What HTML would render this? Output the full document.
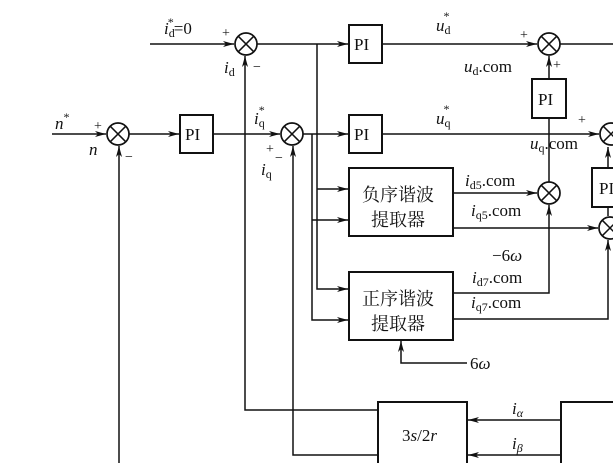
<!DOCTYPE html>
<html><head><meta charset="utf-8"><style>
html,body{margin:0;padding:0;background:#fff;}
svg{display:block;}
text{font-family:"Liberation Serif","Noto Serif CJK SC",serif;fill:#111;}
</style></head><body>
<svg width="613" height="463" viewBox="0 0 613 463" xmlns="http://www.w3.org/2000/svg">
<defs>
<marker id="a" markerWidth="11" markerHeight="6" refX="11" refY="3" orient="auto" markerUnits="userSpaceOnUse">
<path d="M0,0 L11,3 L0,6 L3,3 z" fill="#111"/></marker>
<g id="sum"><circle r="11" fill="#fff" stroke="#111" stroke-width="1.7"/><path d="M-7.8,-7.8 L7.8,7.8 M-7.8,7.8 L7.8,-7.8" stroke="#111" stroke-width="1.5"/></g>
</defs>
<g stroke="#111" stroke-width="1.5" fill="none">
<line x1="150" y1="44" x2="234" y2="44" marker-end="url(#a)"/>
<line x1="257" y1="44" x2="348" y2="44" marker-end="url(#a)"/>
<line x1="383" y1="44" x2="537" y2="44" marker-end="url(#a)"/>
<line x1="560" y1="44" x2="613" y2="44"/>
<line x1="52" y1="134" x2="106" y2="134" marker-end="url(#a)"/>
<line x1="129" y1="134" x2="179" y2="134" marker-end="url(#a)"/>
<line x1="214" y1="134" x2="280" y2="134" marker-end="url(#a)"/>
<line x1="303" y1="134" x2="348" y2="134" marker-end="url(#a)"/>
<line x1="383" y1="134" x2="599" y2="134" marker-end="url(#a)"/>
<polyline points="317,44 317,289 348,289" marker-end="url(#a)"/>
<line x1="317" y1="189" x2="348" y2="189" marker-end="url(#a)"/>
<polyline points="312,134 312,320 348,320" marker-end="url(#a)"/>
<line x1="312" y1="220" x2="348" y2="220" marker-end="url(#a)"/>
<polyline points="378,410 245,410 245,56" marker-end="url(#a)"/>
<polyline points="378,455 293,455 293,146" marker-end="url(#a)"/>
<line x1="119" y1="463" x2="119" y2="146" marker-end="url(#a)"/>
<line x1="549" y1="79" x2="549" y2="56" marker-end="url(#a)"/>
<line x1="549" y1="182" x2="549" y2="118"/>
<line x1="453" y1="193" x2="537" y2="193" marker-end="url(#a)"/>
<line x1="453" y1="228" x2="598" y2="228" marker-end="url(#a)"/>
<polyline points="453,293 549,293 549,205" marker-end="url(#a)"/>
<polyline points="453,319 608,319 608,240" marker-end="url(#a)"/>
<line x1="608" y1="216" x2="608" y2="207"/>
<line x1="608" y1="168" x2="608" y2="147" marker-end="url(#a)"/>
<polyline points="467,363 401,363 401,341" marker-end="url(#a)"/>
<line x1="561" y1="420" x2="468" y2="420" marker-end="url(#a)"/>
<line x1="561" y1="455" x2="468" y2="455" marker-end="url(#a)"/>
</g>
<g stroke="#111" stroke-width="2" fill="#fff">
<rect x="349" y="25" width="33" height="38"/>
<rect x="180" y="115" width="33" height="38"/>
<rect x="349" y="115" width="33" height="38"/>
<rect x="532" y="79" width="34" height="39"/>
<rect x="592" y="168" width="30" height="39"/>
<rect x="349" y="168" width="104" height="68"/>
<rect x="349" y="272" width="104" height="68"/>
<rect x="378" y="402" width="89" height="70"/>
<rect x="561" y="402" width="60" height="70"/>
</g>
<use href="#sum" x="246" y="44"/>
<use href="#sum" x="549" y="44"/>
<use href="#sum" x="118" y="134"/>
<use href="#sum" x="292" y="134"/>
<use href="#sum" x="611" y="134"/>
<use href="#sum" x="549" y="193"/>
<use href="#sum" x="610" y="228"/>
<g font-size="17">
<text x="354" y="50">PI</text>
<text x="185" y="140">PI</text>
<text x="354" y="140">PI</text>
<text x="538" y="105">PI</text>
<text x="599" y="194">PI</text>
<text x="362" y="201" font-size="18">负序谐波</text>
<text x="371" y="226" font-size="18">提取器</text>
<text x="362" y="305" font-size="18">正序谐波</text>
<text x="371" y="330" font-size="18">提取器</text>
<text x="402" y="441">3<tspan font-style="italic">s</tspan>/2<tspan font-style="italic">r</tspan></text>
<text x="164" y="34"><tspan font-style="italic">i</tspan><tspan font-size="12" dy="3">d</tspan><tspan font-size="12" dx="-7" dy="-11">*</tspan><tspan dy="8">=0</tspan></text>
<text x="224" y="73"><tspan font-style="italic">i</tspan><tspan font-size="12" dy="3">d</tspan></text>
<text x="55" y="129" font-style="italic">n<tspan font-size="12" dy="-8" font-style="normal">*</tspan></text>
<text x="89" y="155" font-style="italic">n</text>
<text x="254" y="124"><tspan font-style="italic">i</tspan><tspan font-size="12" dy="3">q</tspan><tspan font-size="12" dx="-6" dy="-13">*</tspan></text>
<text x="261" y="175"><tspan font-style="italic">i</tspan><tspan font-size="12" dy="3">q</tspan></text>
<text x="436" y="31"><tspan font-style="italic">u</tspan><tspan font-size="12" dy="3">d</tspan><tspan font-size="12" dx="-7" dy="-14">*</tspan></text>
<text x="436" y="124"><tspan font-style="italic">u</tspan><tspan font-size="12" dy="3">q</tspan><tspan font-size="12" dx="-7" dy="-14">*</tspan></text>
<text x="464" y="72"><tspan font-style="italic">u</tspan><tspan font-size="12" dy="3">d</tspan><tspan dy="-3">.com</tspan></text>
<text x="530" y="149"><tspan font-style="italic">u</tspan><tspan font-size="12" dy="3">q</tspan><tspan dy="-3">.com</tspan></text>
<text x="465" y="186"><tspan font-style="italic">i</tspan><tspan font-size="12" dy="3">d5</tspan><tspan dy="-3">.com</tspan></text>
<text x="471" y="216"><tspan font-style="italic">i</tspan><tspan font-size="12" dy="3">q5</tspan><tspan dy="-3">.com</tspan></text>
<text x="492" y="261">−6<tspan font-style="italic">ω</tspan></text>
<text x="472" y="283"><tspan font-style="italic">i</tspan><tspan font-size="12" dy="3">d7</tspan><tspan dy="-3">.com</tspan></text>
<text x="471" y="308"><tspan font-style="italic">i</tspan><tspan font-size="12" dy="3">q7</tspan><tspan dy="-3">.com</tspan></text>
<text x="470" y="369">6<tspan font-style="italic">ω</tspan></text>
<text x="512" y="414"><tspan font-style="italic">i</tspan><tspan font-size="12" dy="3" font-style="italic">α</tspan></text>
<text x="512" y="449"><tspan font-style="italic">i</tspan><tspan font-size="12" dy="3" font-style="italic">β</tspan></text>
</g>
<g font-size="14">
<text x="222" y="37">+</text><text x="253" y="71">−</text>
<text x="94" y="130">+</text><text x="125" y="161">−</text>
<text x="266" y="153">+</text><text x="275" y="162">−</text>
<text x="520" y="39">+</text><text x="553" y="69">+</text>
<text x="578" y="124">+</text>
</g>
</svg>
</body></html>
